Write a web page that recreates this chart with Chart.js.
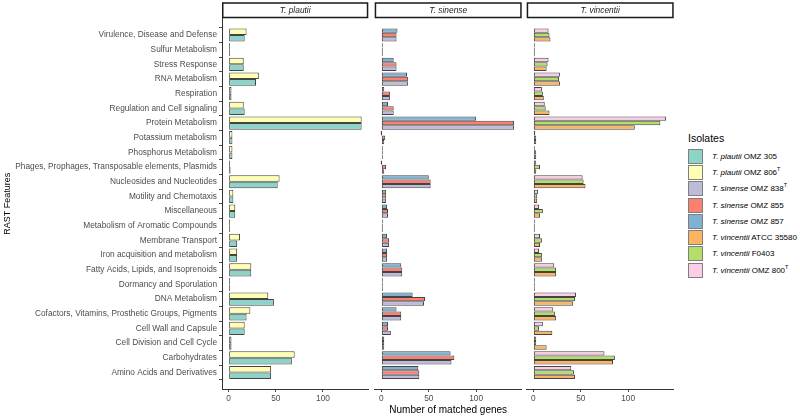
<!DOCTYPE html>
<html><head><meta charset="utf-8">
<script src="https://cdn.jsdelivr.net/npm/chart.js@4.4.1/dist/chart.umd.min.js"></script>
<style>
html,body{margin:0;padding:0;background:#fff}
body{width:800px;height:418px;overflow:hidden;position:relative;font-family:"Liberation Sans",Arial,sans-serif}
canvas{position:absolute;top:0}
#legend{position:absolute;left:688px;top:132px;color:#000}
#legend .ttl{font-size:10.5px;margin-bottom:4px;height:12px;line-height:12px}
#legend .row{height:16.3px;display:flex;align-items:center;font-size:8px;white-space:nowrap}
#legend .key{width:15px;height:15px;box-sizing:border-box;border:1px solid #7f7f7f;margin-right:9px;flex:none}
#legend sup{font-size:5.5px;vertical-align:4px;line-height:0}
</style></head><body>
<canvas id="c1" width="372" height="418" style="left:0"></canvas>
<canvas id="c2" width="152" height="418" style="left:372px"></canvas>
<canvas id="c3" width="152" height="418" style="left:524px"></canvas>
<div id="legend"></div>
<script>
// ---- data ----
const categories = [
  "Virulence, Disease and Defense",
  "Sulfur Metabolism",
  "Stress Response",
  "RNA Metabolism",
  "Respiration",
  "Regulation and Cell signaling",
  "Protein Metabolism",
  "Potassium metabolism",
  "Phosphorus Metabolism",
  "Phages, Prophages, Transposable elements, Plasmids",
  "Nucleosides and Nucleotides",
  "Motility and Chemotaxis",
  "Miscellaneous",
  "Metabolism of Aromatic Compounds",
  "Membrane Transport",
  "Iron acquisition and metabolism",
  "Fatty Acids, Lipids, and Isoprenoids",
  "Dormancy and Sporulation",
  "DNA Metabolism",
  "Cofactors, Vitamins, Prosthetic Groups, Pigments",
  "Cell Wall and Capsule",
  "Cell Division and Cell Cycle",
  "Carbohydrates",
  "Amino Acids and Derivatives"
];
const panelTitles = ["T. plautii", "T. sinense", "T. vincentii"];
const xTickValues = [0, 50, 100];

const plautiiOMZ305   = [17, 1, 16, 29, 3, 17, 141, 4, 4, 2, 52, 5, 7, 1, 9, 9, 24, 1, 48, 19, 17, 3, 67, 45];
const plautiiOMZ806   = [19, 1, 16, 32, 3, 16, 141, 4, 4, 1, 54, 5, 7, 1, 12, 9, 24, 1, 42, 23, 17, 3, 70, 45];
const sinenseOMZ838   = [16, 1, 16, 28, 9, 13, 140, 3, 1, 3, 52, 5, 7, 1, 8, 6, 22, 1, 45, 21, 10, 3, 74, 40];
const sinenseOMZ855   = [16, 1, 16, 28, 9, 13, 140, 4, 1, 5, 52, 5, 7, 1, 8, 6, 22, 1, 46, 21, 7, 3, 77, 40];
const sinenseOMZ857   = [17, 1, 13, 27, 3, 7, 100, 0, 1, 0, 50, 5, 6, 1, 6, 6, 21, 1, 33, 16, 7, 3, 73, 39];
const vincentiiATCC35580 = [18, 1, 14, 28, 11, 17, 107, 3, 3, 3, 55, 4, 7, 1, 7, 9, 24, 1, 42, 24, 20, 14, 84, 44];
const vincentiiF0403  = [17, 1, 15, 27, 10, 13, 134, 3, 3, 7, 53, 4, 10, 1, 9, 9, 24, 1, 44, 23, 6, 3, 86, 43];
const vincentiiOMZ800 = [16, 1, 16, 28, 9, 12, 140, 2, 1, 3, 52, 5, 6, 1, 7, 6, 22, 1, 45, 21, 10, 3, 75, 40];

const isolateSpecies = ["T. plautii","T. plautii","T. sinense","T. sinense","T. sinense","T. vincentii","T. vincentii","T. vincentii"];
const isolateStrain  = ["OMZ 305","OMZ 806","OMZ 838","OMZ 855","OMZ 857","ATCC 35580","F0403","OMZ 800"];
const isolateSup     = ["","T","T","","","","","T"];
const isolateColors  = ["#8DD3C7","#FFFFB3","#BEBADA","#FB8072","#80B1D3","#FDB462","#B3DE69","#FCCDE5"];

// ---- helpers ----
const allVals = [].concat(plautiiOMZ305,plautiiOMZ806,sinenseOMZ838,sinenseOMZ855,sinenseOMZ857,vincentiiATCC35580,vincentiiF0403,vincentiiOMZ800);
const vmax = Math.max(...allVals);
const xMin = -0.05 * vmax, xMax = vmax * 1.05;

const FONT = '"Liberation Sans", Arial, sans-serif';
Chart.defaults.font.family = FONT;
Chart.defaults.color = '#4d4d4d';

const stripPlugin = {
  id: 'strip',
  afterDraw(chart, args, opts) {
    const {ctx, chartArea: a} = chart;
    ctx.save();
    ctx.strokeStyle = '#1a1a1a';
    ctx.lineWidth = 1.5;
    ctx.fillStyle = '#fff';
    const top = 3, h = 14.5;
    ctx.fillRect(a.left, top, a.right - a.left, h);
    ctx.strokeRect(a.left + 0.75, top, a.right - a.left - 1.5, h);
    ctx.fillStyle = '#1a1a1a';
    ctx.font = 'italic 8.4px ' + FONT;
    ctx.textAlign = 'center';
    ctx.textBaseline = 'middle';
    ctx.fillText(opts.text, (a.left + a.right) / 2, top + h / 2 + 0.5);
    ctx.restore();
  }
};

function ds(idx, data) {
  return {
    label: isolateSpecies[idx] + ' ' + isolateStrain[idx],
    data: data.map((v, i) => ({x: v, y: i})),
    backgroundColor: isolateColors[idx],
    borderColor: '#444',
    borderWidth: 1,
    borderSkipped: false,
    minBarLength: 1.4,
    barPercentage: 1,
    categoryPercentage: 0.9
  };
}

function makeChart(id, datasets, title, opts) {
  const yScale = {
    type: 'linear', reverse: true, min: -0.6, max: categories.length - 1 + 0.6,
    display: opts.showY,
    afterBuildTicks: ax => { ax.ticks = categories.map((c, i) => ({value: i})); },
    ticks: { autoSkip: false, callback: v => categories[v], color: '#4d4d4d', font: {size: 8.3}, padding: 2 },
    grid: { drawOnChartArea: false, drawTicks: true, tickLength: 3, color: '#4d4d4d', lineWidth: 1 },
    border: { display: true, color: '#333', width: 1 },
    title: { display: opts.showY, text: 'RAST Features', color: '#000', font: {size: 9}, padding: {top: 2, bottom: 0} }
  };
  if (opts.showY) yScale.afterFit = ax => { ax.width = 222; };
  return new Chart(document.getElementById(id), {
    type: 'bar',
    data: { datasets },
    options: {
      indexAxis: 'y',
      responsive: false,
      animation: false,
      layout: { padding: opts.padding },
      plugins: { legend: {display: false}, tooltip: {enabled: false}, strip: {text: title} },
      scales: {
        x: {
          type: 'linear', min: xMin, max: xMax,
          afterBuildTicks: ax => { ax.ticks = xTickValues.map(v => ({value: v})); },
          ticks: { color: '#4d4d4d', font: {size: 8.3}, padding: 2 },
          grid: { drawOnChartArea: false, drawTicks: true, tickLength: 3, color: '#4d4d4d' },
          border: { display: true, color: '#333', width: 1 },
          title: { display: !!opts.xTitle, text: 'Number of matched genes', color: '#000', font: {size: 10}, padding: {top: 0, bottom: 2} },
          afterFit: ax => { ax.height = 29; }
        },
        y: yScale
      }
    },
    plugins: [stripPlugin]
  });
}

makeChart('c1', [ds(1, plautiiOMZ806), ds(0, plautiiOMZ305)], panelTitles[0],
  {showY: true, padding: {left: 0, right: 3.7, top: 18.5, bottom: 0}});
makeChart('c2', [ds(4, sinenseOMZ857), ds(3, sinenseOMZ855), ds(2, sinenseOMZ838)], panelTitles[1],
  {showY: false, xTitle: true, padding: {left: 2.7, right: 2.3, top: 18.5, bottom: 0}});
makeChart('c3', [ds(7, vincentiiOMZ800), ds(6, vincentiiF0403), ds(5, vincentiiATCC35580)], panelTitles[2],
  {showY: false, padding: {left: 2.7, right: 2.3, top: 18.5, bottom: 0}});

// ---- legend ----
let html = '<div class="ttl">Isolates</div>';
isolateSpecies.forEach((s, i) => {
  html += '<div class="row"><span class="key" style="background:' + isolateColors[i] + '"></span><span><i>' + s + '</i> ' +
    isolateStrain[i] + (isolateSup[i] ? '<sup>' + isolateSup[i] + '</sup>' : '') + '</span></div>';
});
document.getElementById('legend').innerHTML = html;
</script>
</body></html>
